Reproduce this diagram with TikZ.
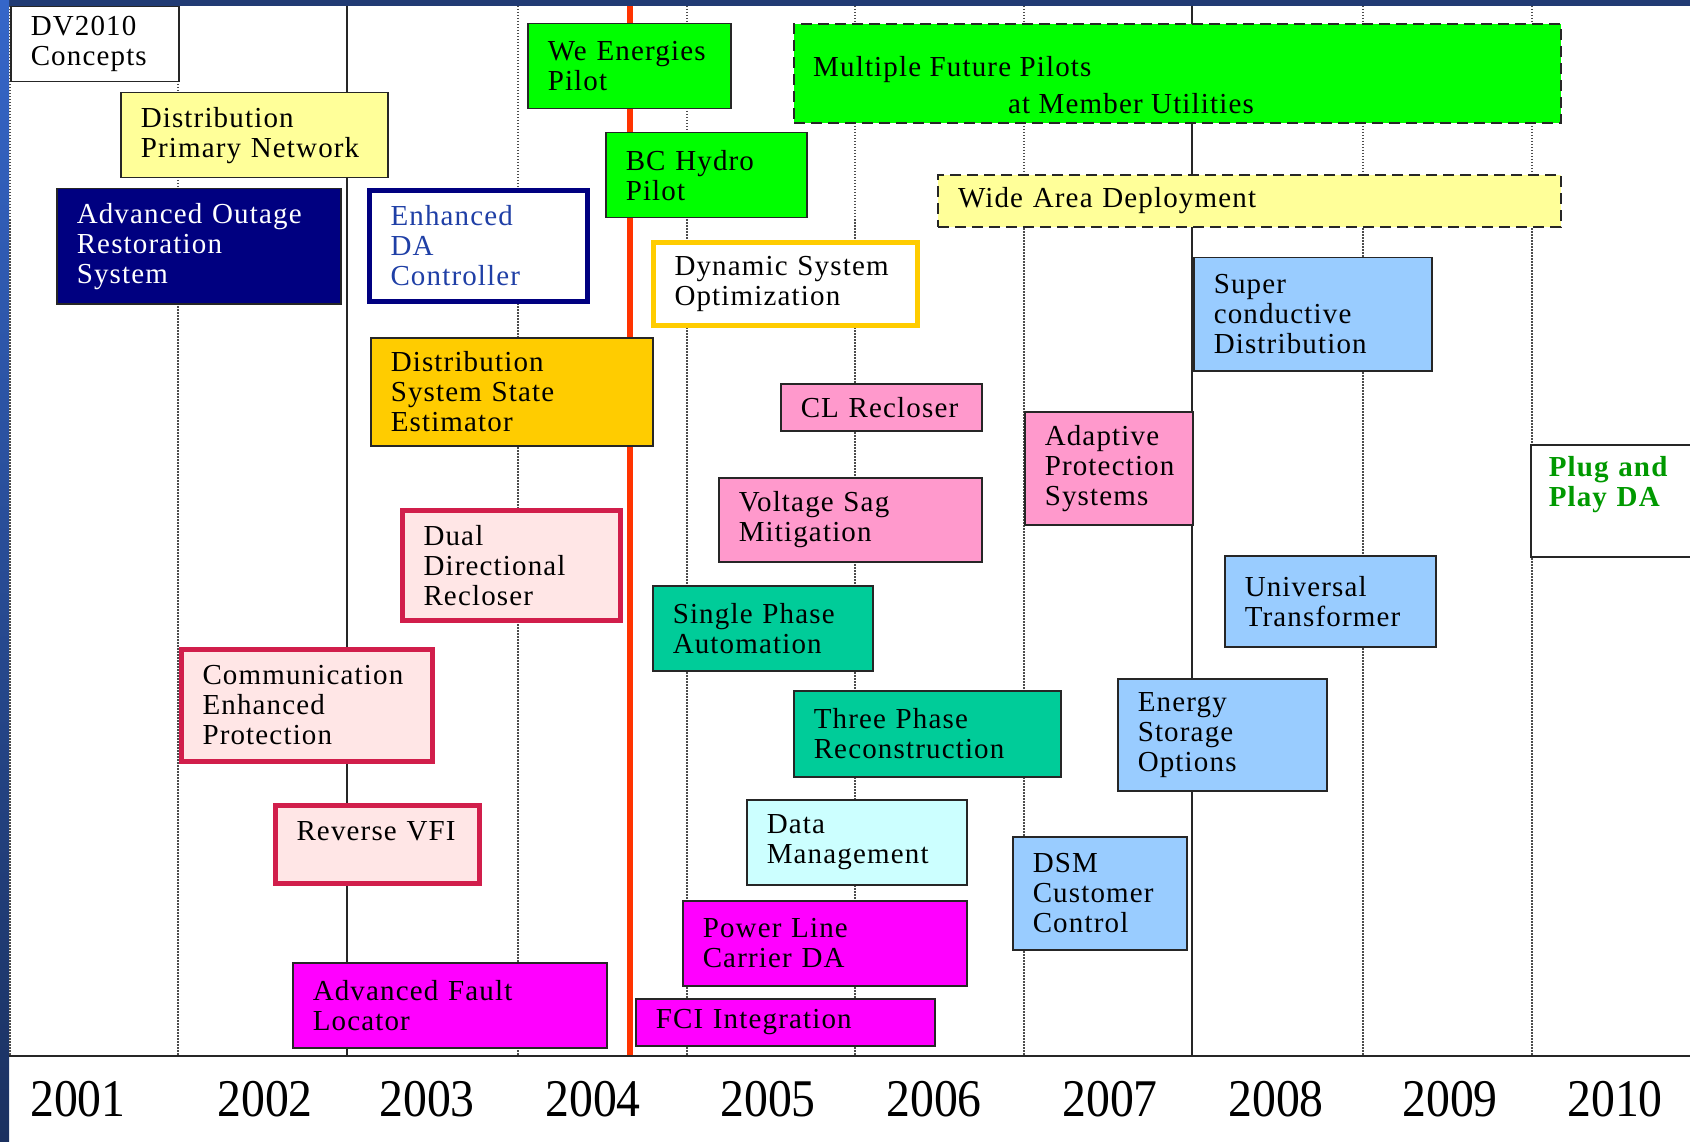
\documentclass[tikz,border=0pt]{standalone}
\usepackage{fontspec}
\setmainfont{Liberation Serif}[LetterSpace=4]
\newfontfamily\yearfont[FakeStretch=0.9]{Liberation Serif}
\newcommand\chartfont{\fontsize{29}{30}\selectfont}
\definecolor{frametop}{HTML}{213B74}
\definecolor{frameleft}{HTML}{3566C9}
\definecolor{framebottom}{HTML}{1B3160}
\definecolor{pilotgreen}{HTML}{00FF00}
\definecolor{paleyellow}{HTML}{FFFF99}
\definecolor{navyfill}{HTML}{000080}
\definecolor{edablue}{HTML}{1F3FA6}
\definecolor{goldfill}{HTML}{FFCC00}
\definecolor{pinkfill}{HTML}{FF99CC}
\definecolor{skyfill}{HTML}{99CCFF}
\definecolor{tealfill}{HTML}{00CC99}
\definecolor{magentafill}{HTML}{FF00FF}
\definecolor{icefill}{HTML}{CCFFFF}
\definecolor{blushfill}{HTML}{FFE6E6}
\definecolor{crimsonline}{HTML}{D11E4B}
\definecolor{plugreen}{HTML}{009900}
\definecolor{nowred}{HTML}{FF3300}
\begin{document}
\begin{tikzpicture}[x=1pt,y=-1pt,
    box/.style={draw=black!85,line width=1.5pt,anchor=north west,align=left,
        inner xsep=20pt,inner ysep=0pt,font=\chartfont},
    thickbox/.style={box,line width=5pt,inner xsep=21pt},
    dashbox/.style={box,line width=2pt,dash pattern=on 11pt off 6pt},
    lbl/.style={anchor=north west,align=left,inner sep=0pt,font=\chartfont},
    gridline/.style={black!70,line width=1.2pt,dash pattern=on 1.5pt off 1.5pt},
    yearline/.style={black!85,line width=1.5pt},
    yearlbl/.style={font=\yearfont\fontsize{53}{53}\selectfont}]
    \useasboundingbox (0,0) rectangle (1690,1142);
    % frame
    \fill[white] (0,0) rectangle (1690,1142);
    \fill[frametop] (0,0) rectangle (1690,6);
    \shade[top color=frameleft,bottom color=framebottom] (0,0) rectangle (9,1142);
    % year grid
    \foreach \xx in {10,178,518,687,855,1024,1363,1532}
        \draw[gridline] (\xx,6) -- (\xx,1056);
    \foreach \xx in {347,1192}
        \draw[yearline] (\xx,6) -- (\xx,1056);
    \draw[nowred,line width=6pt] (630,6) -- (630,1056);
    \draw[black!85,line width=2.5pt] (9,1056) -- (1690,1056);
    \foreach \yr/\xx in {2001/78,2002/265,2003/427,2004/593,2005/768,2006/934,2007/1110,2008/1276,2009/1450,2010/1615}
        \node[yearlbl] (y\yr) at (\xx,1099) {\yr};
    % concepts
    \node[box,fill=white,minimum width=168pt,minimum height=75pt,text width=128pt] (dv) at (10,6) {DV2010\\Concepts};
    \node[box,fill=paleyellow,minimum width=267pt,minimum height=85pt,text width=227pt] (dpn) at (120,92) {Distribution\\Primary Network};
    \node[box,fill=navyfill,text=white,minimum width=284pt,minimum height=115pt,text width=244pt] (aors) at (56,188) {Advanced Outage\\Restoration\\System};
    \node[thickbox,draw=navyfill,fill=white,text=edablue,minimum width=218pt,minimum height=111pt,text width=176pt] (eda) at (367,188) {Enhanced\\DA\\Controller};
    \node[box,fill=pilotgreen,minimum width=203pt,minimum height=85pt,text width=163pt] (we) at (527,23) {We Energies\\Pilot};
    \node[box,fill=pilotgreen,minimum width=201pt,minimum height=85pt,text width=161pt] (bch) at (605,132) {BC Hydro\\Pilot};
    \node[dashbox,fill=pilotgreen,minimum width=767pt,minimum height=99pt] (multi) at (793,23) {};
    \node[lbl] (multitxt) at ([xshift=20pt,yshift=-33pt]multi.north west) {Multiple Future Pilots\\[7pt]\hspace*{195pt}at Member Utilities};
    \node[dashbox,fill=paleyellow,minimum width=623pt,minimum height=52pt,text width=583pt] (wide) at (937,174) {Wide Area Deployment};
    \node[thickbox,draw=goldfill,fill=white,minimum width=264pt,minimum height=83pt,text width=222pt] (dso) at (651,240) {Dynamic System\\Optimization};
    \node[box,fill=goldfill,minimum width=282pt,minimum height=108pt,text width=242pt] (dsse) at (370,337) {Distribution\\System State\\Estimator};
    \node[box,fill=pinkfill,minimum width=201pt,minimum height=47pt,text width=161pt] (clr) at (780,383) {CL Recloser};
    \node[box,fill=pinkfill,minimum width=263pt,minimum height=84pt,text width=223pt] (vsm) at (718,477) {Voltage Sag\\Mitigation};
    \node[box,fill=pinkfill,minimum width=168pt,minimum height=113pt,text width=128pt] (aps) at (1024,411) {Adaptive\\Protection\\Systems};
    \node[box,fill=skyfill,minimum width=238pt,minimum height=113pt,text width=198pt] (scd) at (1193,257) {Super\\conductive\\Distribution};
    \node[box,fill=white,text=plugreen,font=\chartfont\bfseries,inner xsep=18pt,minimum width=200pt,minimum height=112pt,text width=164pt] (pnp) at (1530,444) {Plug and\\Play DA\\\strut};
    \node[thickbox,draw=crimsonline,fill=blushfill,minimum width=218pt,minimum height=110pt,text width=176pt] (ddr) at (400,508) {Dual\\Directional\\Recloser};
    \node[box,fill=tealfill,minimum width=220pt,minimum height=85pt,text width=180pt] (spa) at (652,585) {Single Phase\\Automation};
    \node[box,fill=skyfill,minimum width=211pt,minimum height=91pt,text width=171pt] (ut) at (1224,555) {Universal\\Transformer};
    \node[thickbox,draw=crimsonline,fill=blushfill,minimum width=251pt,minimum height=112pt,text width=209pt] (cep) at (179,647) {Communication\\Enhanced\\Protection};
    \node[box,fill=tealfill,minimum width=267pt,minimum height=86pt,text width=227pt] (tpr) at (793,690) {Three Phase\\Reconstruction};
    \node[box,fill=skyfill,minimum width=209pt,minimum height=112pt,text width=169pt] (eso) at (1117,678) {Energy\\Storage\\Options};
    \node[thickbox,draw=crimsonline,fill=blushfill,minimum width=204pt,minimum height=78pt,text width=162pt] (rvfi) at (273,803) {Reverse VFI\\[-12pt]\strut};
    \node[box,fill=icefill,minimum width=220pt,minimum height=85pt,text width=180pt] (dm) at (746,799) {Data\\Management};
    \node[box,fill=skyfill,minimum width=174pt,minimum height=113pt,text width=134pt] (dsm) at (1012,836) {DSM\\Customer\\Control};
    \node[box,fill=magentafill,minimum width=284pt,minimum height=85pt,text width=244pt] (plc) at (682,900) {Power Line\\Carrier DA};
    \node[box,fill=magentafill,minimum width=314pt,minimum height=85pt,text width=274pt] (afl) at (292,962) {Advanced Fault\\Locator};
    \node[box,fill=magentafill,minimum width=299pt,minimum height=47pt,text width=259pt] (fci) at (635,998) {FCI Integration};
\end{tikzpicture}
\end{document}
